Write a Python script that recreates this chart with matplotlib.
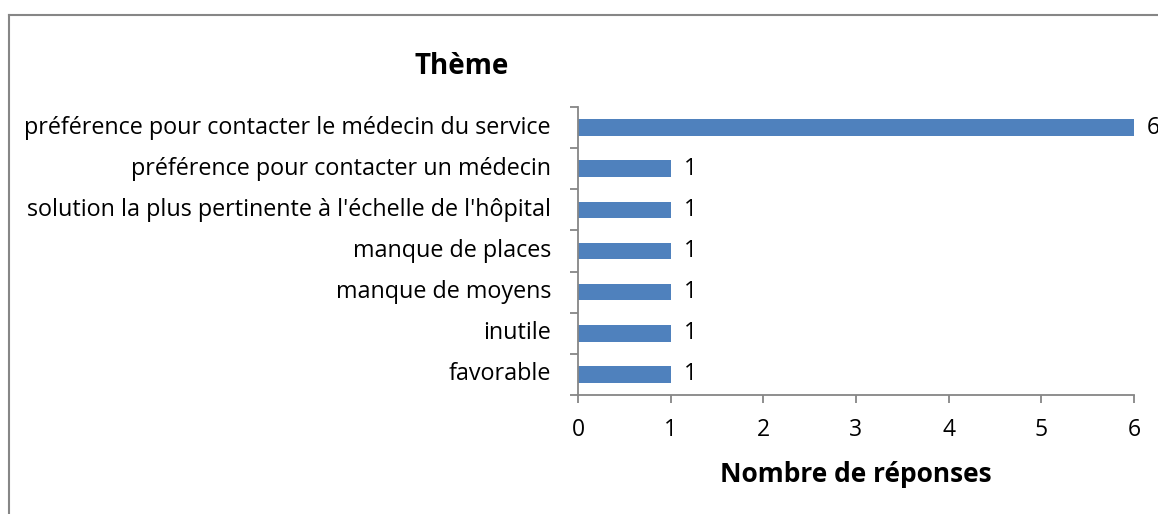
import numpy as np
import matplotlib.pyplot as plt
from matplotlib.lines import Line2D

# Données
themes = ['favorable', 'inutile', 'manque de moyens', 'manque de places',
          "solution la plus pertinente à l'échelle de l'hôpital",
          'préférence pour contacter un médecin',
          'préférence pour contacter le médecin du service']
reponses = [1, 1, 1, 1, 1, 1, 6]

plt.rcParams['font.family'] = ['Open Sans', 'DejaVu Sans']
gris = '#868686'
bleu = '#4F81BD'

fig = plt.figure(figsize=(11.58, 5.14), dpi=100)
ax = fig.add_axes([578 / 1158, 1 - 395 / 514, (1134 - 578) / 1158, (395 - 107) / 514])

y = np.arange(len(themes))
ax.barh(y, reponses, height=0.4, color=bleu)

for yi, v in zip(y, reponses):
    ax.text(v + 0.14, yi, str(v), va='center', ha='left', fontsize=16.5, clip_on=False)

ax.set_xlim(0, 6)
ax.set_ylim(-0.5, len(themes) - 0.5)
ax.set_xticks(range(7))
ax.set_yticks(y)
ax.set_yticklabels(themes, fontsize=16.8, va='center')
ax.set_yticks(np.arange(-0.5, len(themes)), minor=True)
ax.tick_params(axis='y', which='major', length=0, pad=19.5)
ax.tick_params(axis='y', which='minor', length=6, color=gris, width=1.3)
ax.tick_params(axis='x', length=6, color=gris, width=1.3, labelsize=16.5, pad=10.5)

for s in ['top', 'right']:
    ax.spines[s].set_visible(False)
for s in ['left', 'bottom']:
    ax.spines[s].set_color(gris)
    ax.spines[s].set_linewidth(1.3)

ax.set_xlabel('Nombre de réponses', fontsize=19, fontweight='bold', labelpad=14)
fig.text(462 / 1158, 1 - 66 / 514, 'Thème', fontsize=20, fontweight='bold',
         ha='center', va='center')

# Cadre du graphique (coupé à droite et en bas)
fig.add_artist(Line2D([9 / 1158, 1.0], [1 - 15 / 514] * 2, color=gris, lw=1.5))
fig.add_artist(Line2D([9 / 1158] * 2, [1 - 15 / 514, 0.0], color=gris, lw=1.5))

fig.savefig('out.png', dpi=100)
